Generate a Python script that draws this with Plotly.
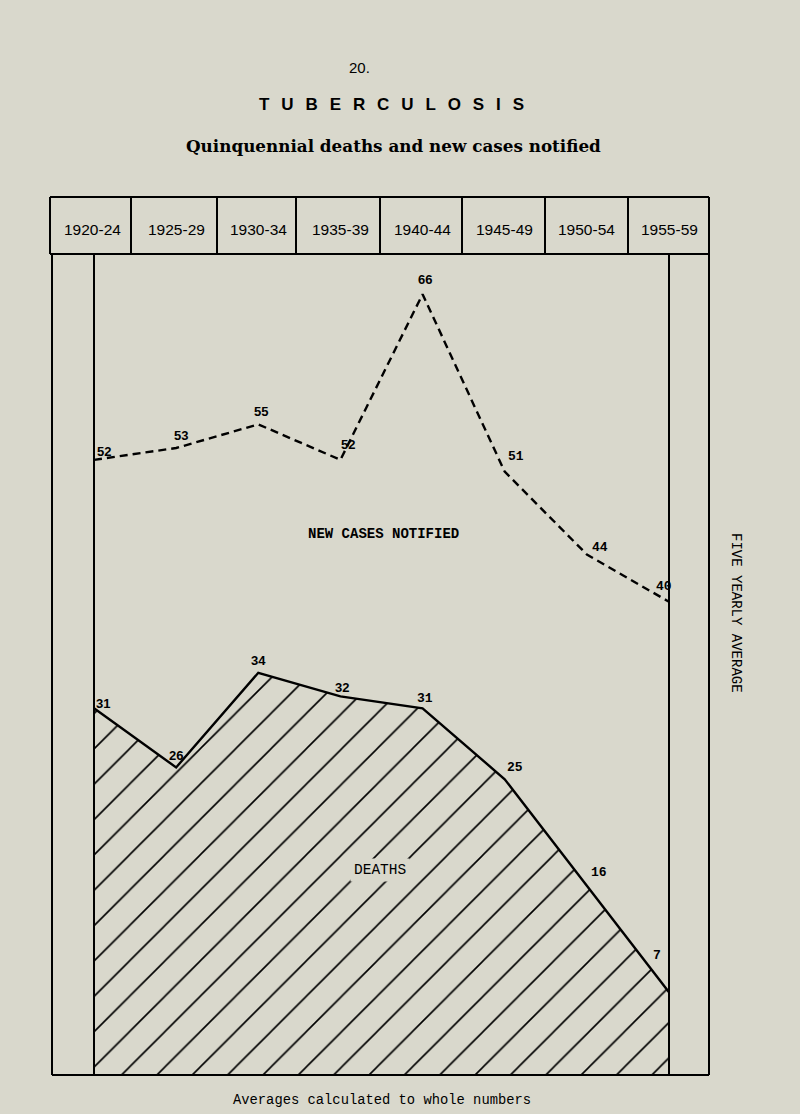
import plotly.graph_objects as go

# ---------------- data ----------------
periods = ["1920-24", "1925-29", "1930-34", "1935-39",
           "1940-44", "1945-49", "1950-54", "1955-59"]
new_cases = [52, 53, 55, 52, 66, 51, 44, 40]
deaths = [31, 26, 34, 32, 31, 25, 16, 7]

# ---------------- layout geometry ----------------
PAGE = "#d9d8cc"
W, H = 800, 1114
L, R, T, B = 94, 800 - 669, 254, 1114 - 1075
PW = W - L - R
PH = H - T - B
YMAX = PH / 11.83

SANS = "Liberation Sans, Arial, Helvetica, sans-serif"
MONO = "Liberation Mono, Courier New, monospace"
SERIF = "DejaVu Serif, Liberation Serif, serif"


def px(x):
    return (x - L) / PW


def py(y):
    return (H - B - y) / PH


xs = list(range(len(periods)))

fig = go.Figure()

# deaths: solid line with hatched area
fig.add_trace(go.Scatter(
    x=xs, y=deaths, mode="lines",
    line=dict(color="black", width=2.4),
    fill="tozeroy", fillcolor="rgba(0,0,0,0)",
    fillpattern=dict(shape="/", size=25, solidity=0.065,
                     fgcolor="black", bgcolor="rgba(0,0,0,0)", fgopacity=1),
    hoverinfo="skip", showlegend=False))

# new cases: dashed line
fig.add_trace(go.Scatter(
    x=xs, y=new_cases, mode="lines",
    line=dict(color="black", width=2.4, dash="8px,5px"),
    hoverinfo="skip", showlegend=False))

ann = []


def text(x, y, s, font, xref="paper", yref="paper", **kw):
    d = dict(x=x, y=y, xref=xref, yref=yref, text=s, showarrow=False,
             xanchor="center", yanchor="middle", font=font)
    d.update(kw)
    ann.append(d)


# value labels
nc_shift = [(10, 8), (5, 13), (3, 13), (8, 15), (2, 15), (11, 15), (13, 7), (-5, 15)]
nc_font = [SANS, SANS, SANS, SANS, SANS, MONO, MONO, MONO]
for i, v in enumerate(new_cases):
    dx, dy = nc_shift[i]
    text(xs[i], v, str(v), dict(family=nc_font[i], size=13, color="black", weight="bold"),
         xref="x", yref="y", xshift=dx, yshift=dy)

d_shift = [(9, 5), (0, 12), (0, 12), (2, 9), (2, 10), (10, 12), (12, 13), (-12, 37)]
d_font = [SANS, SANS, SANS, SANS, MONO, MONO, MONO, MONO]
for i, v in enumerate(deaths):
    dx, dy = d_shift[i]
    text(xs[i], v, str(v), dict(family=d_font[i], size=13, color="black", weight="bold"),
         xref="x", yref="y", xshift=dx, yshift=dy)

# header period labels
for i, p in enumerate(periods):
    text(xs[i], py(230), p, dict(family=SANS, size=15.5, color="black"),
         xref="x", xshift=(-2 if i == 0 else 0))

# series labels
text(px(383), py(534), "NEW CASES NOTIFIED",
     dict(family=MONO, size=14, color="black", weight="bold"))
text(px(380), py(870), "DEATHS",
     dict(family=MONO, size=14.5, color="black"), bgcolor=PAGE, borderpad=3)

# titles
text(px(359), py(67), "20.", dict(family=SANS, size=15, color="black"))
sep = "\u2002\u2009"
text(px(391), py(105), sep.join("TUBERCULOSIS"),
     dict(family=SANS, size=17, color="black", weight="bold"))
text(px(393), py(146), "Quinquennial deaths and new cases notified",
     dict(family=SERIF, size=16.8, color="black", weight="bold"))
text(px(382), py(1100), "Averages calculated to whole numbers",
     dict(family=MONO, size=13.8, color="black"))
text(px(736), py(613), "FIVE YEARLY AVERAGE",
     dict(family=MONO, size=14, color="black"), textangle=90)

# frame / header box
shapes = []
LW = 2


def line(x0, y0, x1, y1):
    shapes.append(dict(type="line", xref="paper", yref="paper",
                       x0=px(x0), y0=py(y0), x1=px(x1), y1=py(y1),
                       line=dict(color="black", width=LW)))


line(50, 197, 709, 197)
line(50, 254, 709, 254)
for xv in [50, 131, 217, 296, 380, 462, 545, 628, 709]:
    line(xv, 197, xv, 254)
for xv in [52, 94, 669, 709]:
    line(xv, 254, xv, 1075)
line(52, 1075, 709, 1075)

fig.update_layout(
    width=W, height=H,
    margin=dict(l=L, r=R, t=T, b=B),
    paper_bgcolor=PAGE, plot_bgcolor=PAGE,
    xaxis=dict(range=[0, 7], visible=False, fixedrange=True),
    yaxis=dict(range=[0, YMAX], visible=False, fixedrange=True),
    annotations=ann, shapes=shapes, showlegend=False,
)

fig.write_html("out.html")
